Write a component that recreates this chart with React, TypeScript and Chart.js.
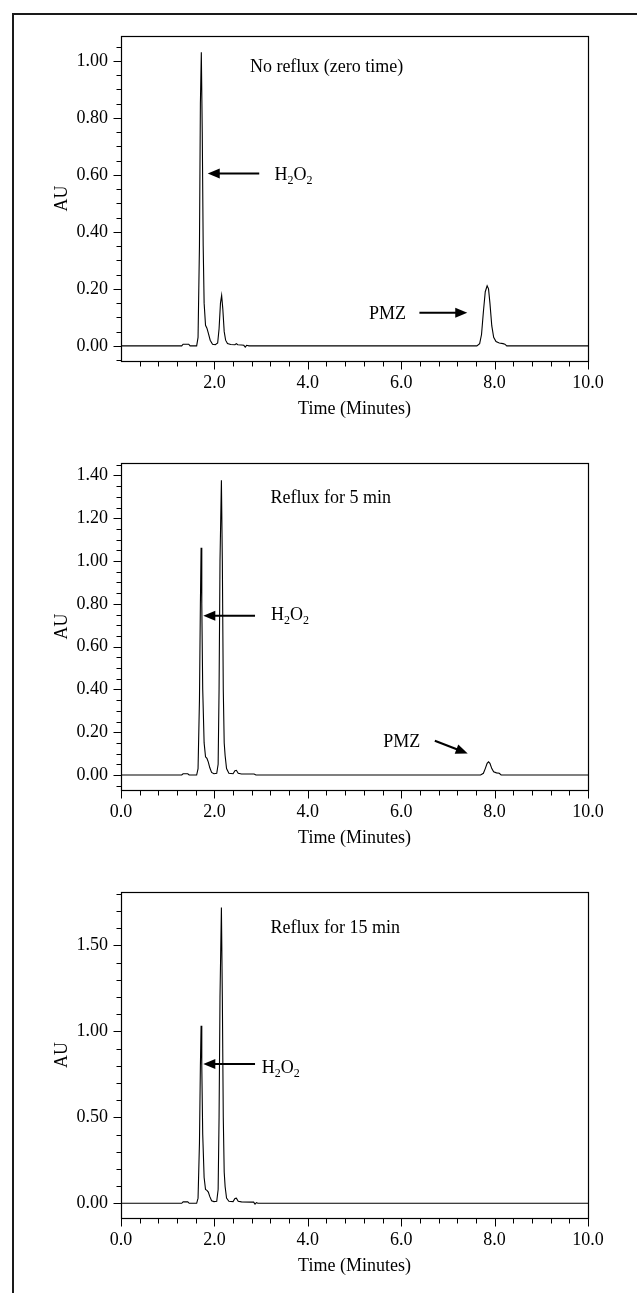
import React, { useEffect, useRef } from "react";
import { Chart, registerables } from "chart.js";

Chart.register(...registerables);

const FONT = '"Liberation Serif", "Times New Roman", Times, serif';

// ---------- Panel 1: No reflux (zero time) ----------
const TIME_1 = [0, 1.30, 1.33, 1.45, 1.48, 1.62, 1.65, 1.68, 1.70, 1.72, 1.74, 1.76, 1.78, 1.81, 1.84, 1.87, 1.91, 1.96, 2.02, 2.07, 2.10, 2.13, 2.155, 2.18, 2.21, 2.24, 2.28, 2.35, 2.44, 2.47, 2.50, 2.58, 2.63, 2.66, 2.69, 2.74, 7.62, 7.68, 7.72, 7.76, 7.80, 7.84, 7.87, 7.90, 7.94, 7.98, 8.03, 8.10, 8.18, 8.22, 8.26, 10];
const AU_1 = [0, 0, 0.006, 0.006, 0, 0, 0.03, 0.35, 0.85, 1.03, 0.75, 0.35, 0.15, 0.072, 0.062, 0.045, 0.02, 0.006, 0.004, 0.01, 0.06, 0.15, 0.177, 0.13, 0.05, 0.02, 0.008, 0.005, 0.004, 0.008, 0.004, 0.003, 0.002, -0.004, 0.002, 0, 0, 0.008, 0.04, 0.12, 0.19, 0.211, 0.2, 0.15, 0.07, 0.03, 0.015, 0.01, 0.008, 0.006, 0, 0];
const X_LABELS_1 = [2, 4, 6, 8, 10];
const Y_LABELS_1 = [0, 0.2, 0.4, 0.6, 0.8, 1.0];

// ---------- Panel 2: Reflux for 5 min ----------
const TIME_2 = [0, 1.30, 1.33, 1.43, 1.46, 1.62, 1.65, 1.68, 1.70, 1.715, 1.73, 1.75, 1.78, 1.81, 1.84, 1.87, 1.90, 1.94, 1.99, 2.05, 2.08, 2.10, 2.12, 2.15, 2.17, 2.19, 2.21, 2.23, 2.26, 2.31, 2.40, 2.44, 2.47, 2.51, 2.58, 2.85, 2.89, 7.70, 7.76, 7.80, 7.84, 7.87, 7.90, 7.94, 7.98, 8.04, 8.10, 8.14, 10];
const AU_2 = [0, 0, 0.006, 0.006, 0, 0, 0.03, 0.35, 0.8, 1.062, 0.8, 0.4, 0.15, 0.085, 0.078, 0.06, 0.035, 0.012, 0.006, 0.008, 0.05, 0.4, 1.0, 1.377, 1.0, 0.4, 0.15, 0.09, 0.03, 0.008, 0.006, 0.02, 0.022, 0.008, 0.005, 0.005, 0, 0, 0.008, 0.03, 0.055, 0.062, 0.055, 0.03, 0.015, 0.01, 0.008, 0, 0];
const X_LABELS_2 = [0, 2, 4, 6, 8, 10];
const Y_LABELS_2 = [0, 0.2, 0.4, 0.6, 0.8, 1.0, 1.2, 1.4];

// ---------- Panel 3: Reflux for 15 min ----------
const TIME_3 = [0, 1.30, 1.33, 1.43, 1.46, 1.62, 1.65, 1.68, 1.70, 1.715, 1.73, 1.75, 1.78, 1.81, 1.84, 1.87, 1.90, 1.94, 1.99, 2.05, 2.08, 2.10, 2.12, 2.15, 2.17, 2.19, 2.21, 2.23, 2.26, 2.31, 2.40, 2.44, 2.47, 2.51, 2.58, 2.80, 2.84, 2.87, 2.90, 2.93, 10];
const AU_3 = [0, 0, 0.008, 0.008, 0, 0, 0.03, 0.35, 0.8, 1.033, 0.8, 0.4, 0.15, 0.08, 0.075, 0.065, 0.04, 0.015, 0.01, 0.012, 0.08, 0.5, 1.2, 1.721, 1.2, 0.5, 0.18, 0.096, 0.03, 0.012, 0.01, 0.028, 0.03, 0.012, 0.008, 0.007, 0.007, -0.005, 0.004, 0, 0];
const X_LABELS_3 = [0, 2, 4, 6, 8, 10];
const Y_LABELS_3 = [0, 0.5, 1.0, 1.5];

type Pt = { t: number; v: number };
type Arrow = { tail: Pt; tip: Pt; label: Pt };
type PanelCfg = {
  time: number[];
  au: number[];
  xLabels: number[];
  yLabels: number[];
  yMin: number;
  yMax: number;
  yMinor: number;
  xMinor: number;
  top: number;
  height: number;
  areaTop: number;
  areaBottom: number;
  titlePad: number;
  caption: string;
  captionAt: Pt;
  h2o2: Arrow;
  pmz?: Arrow;
};

const PANELS: PanelCfg[] = [
  {
    time: TIME_1, au: AU_1, xLabels: X_LABELS_1, yLabels: Y_LABELS_1,
    yMin: -0.053, yMax: 1.087, yMinor: 0.05, xMinor: 0.4,
    top: 0, height: 425, areaTop: 36, areaBottom: 361, titlePad: 5,
    caption: "No reflux (zero time)", captionAt: { t: 2.76, v: 0.962 },
    h2o2: { tail: { t: 2.96, v: 0.605 }, tip: { t: 1.857, v: 0.605 }, label: { t: 3.287, v: 0.582 } },
    pmz: { tail: { t: 6.39, v: 0.116 }, tip: { t: 7.415, v: 0.116 }, label: { t: 5.31, v: 0.093 } },
  },
  {
    time: TIME_2, au: AU_2, xLabels: X_LABELS_2, yLabels: Y_LABELS_2,
    yMin: -0.07, yMax: 1.458, yMinor: 0.05, xMinor: 0.4,
    top: 425, height: 430, areaTop: 38, areaBottom: 365, titlePad: 6,
    caption: "Reflux for 5 min", captionAt: { t: 3.2, v: 1.27 },
    h2o2: { tail: { t: 2.87, v: 0.744 }, tip: { t: 1.762, v: 0.744 }, label: { t: 3.21, v: 0.724 } },
    pmz: { tail: { t: 6.72, v: 0.16 }, tip: { t: 7.424, v: 0.101 }, label: { t: 5.617, v: 0.129 } },
  },
  {
    time: TIME_3, au: AU_3, xLabels: X_LABELS_3, yLabels: Y_LABELS_3,
    yMin: -0.0856, yMax: 1.811, yMinor: 0.1, xMinor: 0.4,
    top: 855, height: 438, areaTop: 37, areaBottom: 363, titlePad: 15.5,
    caption: "Reflux for 15 min", captionAt: { t: 3.2, v: 1.574 },
    h2o2: { tail: { t: 2.87, v: 0.81 }, tip: { t: 1.762, v: 0.81 }, label: { t: 3.013, v: 0.76 } },
  },
];

function drawArrow(ctx: CanvasRenderingContext2D, x1: number, y1: number, x2: number, y2: number) {
  const ang = Math.atan2(y2 - y1, x2 - x1);
  const hl = 12;
  const hw = 5;
  const bx = x2 - hl * Math.cos(ang);
  const by = y2 - hl * Math.sin(ang);
  ctx.lineWidth = 2;
  ctx.beginPath();
  ctx.moveTo(x1, y1);
  ctx.lineTo(bx + Math.cos(ang), by + Math.sin(ang));
  ctx.stroke();
  ctx.beginPath();
  ctx.moveTo(x2, y2);
  ctx.lineTo(bx + hw * Math.sin(ang), by - hw * Math.cos(ang));
  ctx.lineTo(bx - hw * Math.sin(ang), by + hw * Math.cos(ang));
  ctx.closePath();
  ctx.fill();
}

function drawChem(ctx: CanvasRenderingContext2D, parts: [string, boolean][], x: number, y: number) {
  let cx = x;
  for (const [s, sub] of parts) {
    ctx.font = sub ? `12px ${FONT}` : `18px ${FONT}`;
    ctx.fillText(s, cx, sub ? y + 4 : y);
    cx += ctx.measureText(s).width;
  }
}

function Panel({ cfg }: { cfg: PanelCfg }) {
  const ref = useRef<HTMLCanvasElement>(null);
  useEffect(() => {
    const canvas = ref.current!;
    const decor = {
      id: "decor",
      afterDraw(chart: any) {
        const { ctx, chartArea: a } = chart;
        const xs = chart.scales.x;
        const ys = chart.scales.y;
        ctx.save();
        ctx.strokeStyle = "#000";
        ctx.fillStyle = "#000";
        const L = Math.round(a.left) + 0.5;
        const R = Math.round(a.right) + 0.5;
        const T = Math.round(a.top) + 0.5;
        const B = Math.round(a.bottom) + 0.5;
        ctx.lineWidth = 1.2;
        ctx.strokeRect(L, T, R - L, B - T);
        ctx.lineWidth = 1;
        ctx.beginPath();
        const i0 = Math.ceil(cfg.yMin / cfg.yMinor - 1e-9);
        for (let i = i0; i * cfg.yMinor <= cfg.yMax + 1e-9; i++) {
          const v = i * cfg.yMinor;
          const major = cfg.yLabels.some((l) => Math.abs(l - v) < 1e-6);
          const py = Math.round(ys.getPixelForValue(v)) + 0.5;
          ctx.moveTo(L, py);
          ctx.lineTo(L - (major ? 8 : 5), py);
        }
        for (let i = 0; i * cfg.xMinor <= 10 + 1e-9; i++) {
          const v = i * cfg.xMinor;
          const major = cfg.xLabels.some((l) => Math.abs(l - v) < 1e-6);
          if (i === 0 && !major) continue;
          const px = Math.round(xs.getPixelForValue(v)) + 0.5;
          ctx.moveTo(px, B);
          ctx.lineTo(px, B + (major ? 8 : 5));
        }
        ctx.stroke();

        const X = (p: Pt) => xs.getPixelForValue(p.t);
        const Y = (p: Pt) => ys.getPixelForValue(p.v);
        ctx.textBaseline = "alphabetic";
        ctx.textAlign = "left";
        ctx.font = `18px ${FONT}`;
        ctx.fillText(cfg.caption, X(cfg.captionAt), Y(cfg.captionAt));

        const h = cfg.h2o2;
        drawArrow(ctx, X(h.tail), Y(h.tail), X(h.tip), Y(h.tip));
        drawChem(ctx, [["H", false], ["2", true], ["O", false], ["2", true]], X(h.label), Y(h.label));

        if (cfg.pmz) {
          const p = cfg.pmz;
          drawArrow(ctx, X(p.tail), Y(p.tail), X(p.tip), Y(p.tip));
          ctx.font = `18px ${FONT}`;
          ctx.fillText("PMZ", X(p.label), Y(p.label));
        }
        ctx.restore();
      },
    };

    const chart = new Chart(canvas, {
      type: "line",
      data: {
        datasets: [
          {
            data: cfg.time.map((t, i) => ({ x: t, y: cfg.au[i] })),
            borderColor: "#000",
            borderWidth: 1.1,
            pointRadius: 0,
            tension: 0,
            fill: false,
          },
        ],
      },
      options: {
        animation: false,
        responsive: false,
        devicePixelRatio: 1,
        events: [],
        layout: { padding: { left: 0, right: 637 - 588, top: cfg.areaTop, bottom: 0 } },
        plugins: { legend: { display: false }, tooltip: { enabled: false } },
        scales: {
          x: {
            type: "linear",
            min: 0,
            max: 10,
            grid: { display: false, drawTicks: false },
            border: { display: false },
            afterBuildTicks: (s: any) => {
              s.ticks = cfg.xLabels.map((v) => ({ value: v }));
            },
            afterFit: (s: any) => {
              s.height = cfg.height - cfg.areaBottom;
            },
            ticks: {
              autoSkip: false,
              maxRotation: 0,
              padding: 11,
              color: "#000",
              font: { family: FONT, size: 18 },
              callback: (v: any) => Number(v).toFixed(1),
            },
            title: {
              display: true,
              text: "Time (Minutes)",
              color: "#000",
              font: { family: FONT, size: 18 },
              padding: { top: 0, bottom: cfg.titlePad },
            },
          },
          y: {
            type: "linear",
            min: cfg.yMin,
            max: cfg.yMax,
            grid: { display: false, drawTicks: false },
            border: { display: false },
            afterBuildTicks: (s: any) => {
              s.ticks = cfg.yLabels.map((v) => ({ value: v }));
            },
            afterFit: (s: any) => {
              s.width = 121;
            },
            ticks: {
              autoSkip: false,
              padding: 13,
              color: "#000",
              font: { family: FONT, size: 18 },
              callback: (v: any) => Number(v).toFixed(2),
            },
            title: {
              display: true,
              text: "AU",
              color: "#000",
              font: { family: FONT, size: 18 },
              padding: { top: 51, bottom: 0 },
            },
          },
        },
      },
      plugins: [decor],
    } as any);
    return () => chart.destroy();
  }, [cfg]);

  return (
    <canvas
      ref={ref}
      width={637}
      height={cfg.height}
      style={{ position: "absolute", left: 0, top: cfg.top, width: 637, height: cfg.height, display: "block" }}
    />
  );
}

export default function App() {
  useEffect(() => {
    document.body.style.margin = "0";
  }, []);
  return (
    <div style={{ position: "relative", width: 637, height: 1293, overflow: "hidden", background: "#fff" }}>
      <div
        style={{
          position: "absolute",
          left: 12,
          top: 13,
          width: 700,
          height: 1400,
          borderTop: "2px solid #1a1a1a",
          borderLeft: "2px solid #1a1a1a",
        }}
      />
      {PANELS.map((p, i) => (
        <Panel key={i} cfg={p} />
      ))}
    </div>
  );
}
